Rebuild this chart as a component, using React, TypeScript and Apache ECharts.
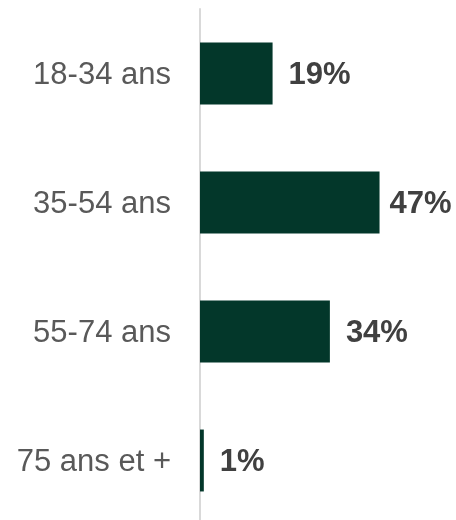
import React, { useEffect, useRef } from "react";
import * as echarts from "echarts";

const categories = ["18-34 ans", "35-54 ans", "55-74 ans", "75 ans et +"];
const values = [19, 47, 34, 1];

export default function App() {
  const ref = useRef<HTMLDivElement>(null);
  useEffect(() => {
    if (!ref.current) return;
    const chart = echarts.init(ref.current, undefined, { renderer: "svg" });
    const maxVal = Math.max(...values);
    chart.setOption({
      animation: false,
      grid: { left: 200, right: 65, top: 9, bottom: 5, containLabel: false },
      xAxis: { type: "value", min: 0, max: 50, show: false },
      yAxis: {
        type: "category",
        data: categories,
        inverse: true,
        axisTick: { show: false },
        axisLine: { show: true, lineStyle: { color: "#d9d9d9", width: 2 } },
        axisLabel: {
          margin: 29,
          fontSize: 31,
          color: "#595959",
          fontFamily: "Liberation Sans, Arial, sans-serif",
        },
        splitLine: { show: false },
      },
      series: [
        {
          type: "bar",
          data: values.map((v) =>
            v === maxVal ? { value: v, label: { distance: 10 } } : v
          ),
          barWidth: "48%",
          itemStyle: { color: "#03372a" },
          label: {
            show: true,
            position: "right",
            distance: 16,
            formatter: "{c}%",
            fontSize: 31,
            fontWeight: "bold",
            color: "#404040",
            fontFamily: "Liberation Sans, Arial, sans-serif",
          },
        },
      ],
    });
    return () => chart.dispose();
  }, []);
  return (
    <div
      ref={ref}
      style={{ position: "fixed", left: 0, top: 0, width: 456, height: 530 }}
    />
  );
}
